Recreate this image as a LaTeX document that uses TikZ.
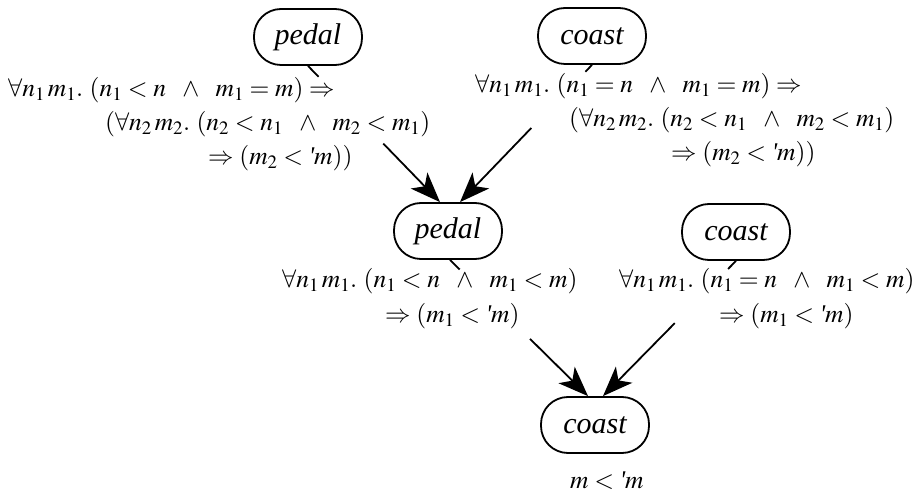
\documentclass[tikz,border=0pt]{standalone}
\usepackage{mathptmx}
\usepackage[no-math]{fontspec}
\setmainfont{Liberation Serif}
\usetikzlibrary{arrows.meta,calc}
\newcommand{\pq}{\mbox{\itshape\textquotesingle}}
\newcommand{\ands}{\ \ \wedge\ \ }
\begin{document}
\begin{tikzpicture}[x=1pt,y=-1pt,
  nd/.style={draw, line width=1.8pt, rounded corners=27pt, minimum width=108pt,
    minimum height=56pt, inner sep=0pt, font=\fontsize{30}{30}\selectfont\itshape},
  lbl/.style={inner sep=0pt, anchor=west, font=\fontsize{25.5}{25.5}\selectfont},
  edge/.style={line width=1.8pt},
  arr/.style={line width=1.8pt, -{Stealth[length=30pt,width=23pt,inset=8pt]}}]
\useasboundingbox (0,0) rectangle (919,494);

% nodes
\node[nd] (p1) at (308,37) {pedal};
\node[nd] (c1) at (592,36) {coast};
\node[nd] (p2) at (448,231) {pedal};
\node[nd] (c2) at (736,232) {coast};
\node[nd] (c3) at (595,425) {coast};

% edge end points
\coordinate (e1a) at (p1.south);
\coordinate (e1b) at ($(p2.north)+(-8,0)$);
\coordinate (e2a) at (c1.south);
\coordinate (e2b) at ($(p2.north)+(12,0)$);
\coordinate (e3a) at ($(p2.south)+(2,0)$);
\coordinate (e3b) at ($(c3.north)+(-7,0)$);
\coordinate (e4a) at (c2.south);
\coordinate (e4b) at ($(c3.north)+(8,0)$);

% ticks
\draw[edge] (e1a) -- ($(e1a)!0.08!(e1b)$);
\draw[edge] (e2a) -- ($(e2a)!0.05!(e2b)$);
\draw[edge] (e3a) -- ($(e3a)!0.07!(e3b)$);
\draw[edge] (e4a) -- ($(e4a)!0.06!(e4b)$);
% arrows
\draw[arr] ($(e1a)!0.57!(e1b)$) -- (e1b);
\draw[arr] ($(e2a)!0.46!(e2b)$) -- (e2b);
\draw[arr] ($(e3a)!0.58!(e3b)$) -- (e3b);
\draw[arr] ($(e4a)!0.46!(e4b)$) -- (e4b);

% labels top pedal
\node[lbl] (l1a) at (8,90) {$\forall n_1\, m_1.\ (n_1 < n \ands m_1 = m) \Rightarrow$};
\node[lbl] (l1b) at (105,124) {$(\forall n_2\, m_2.\ (n_2 < n_1 \ands m_2 < m_1)$};
\node[lbl] (l1c) at (208,158) {$\Rightarrow (m_2 < \pq m))$};
% labels top coast
\node[lbl] (l2a) at (475,86) {$\forall n_1\, m_1.\ (n_1 = n \ands m_1 = m) \Rightarrow$};
\node[lbl] (l2b) at (569,120) {$(\forall n_2\, m_2.\ (n_2 < n_1 \ands m_2 < m_1)$};
\node[lbl] (l2c) at (671,154) {$\Rightarrow (m_2 < \pq m))$};
% labels middle
\node[lbl] (l3a) at (282,281) {$\forall n_1\, m_1.\ (n_1 < n \ands m_1 < m)$};
\node[lbl] (l3b) at (385,316) {$\Rightarrow (m_1 < \pq m)$};
\node[lbl] (l4a) at (619,281) {$\forall n_1\, m_1.\ (n_1 = n \ands m_1 < m)$};
\node[lbl] (l4b) at (719,316) {$\Rightarrow (m_1 < \pq m)$};
% bottom
\node[lbl] (l5) at (570,481) {$m < \pq m$};
\end{tikzpicture}
\end{document}
